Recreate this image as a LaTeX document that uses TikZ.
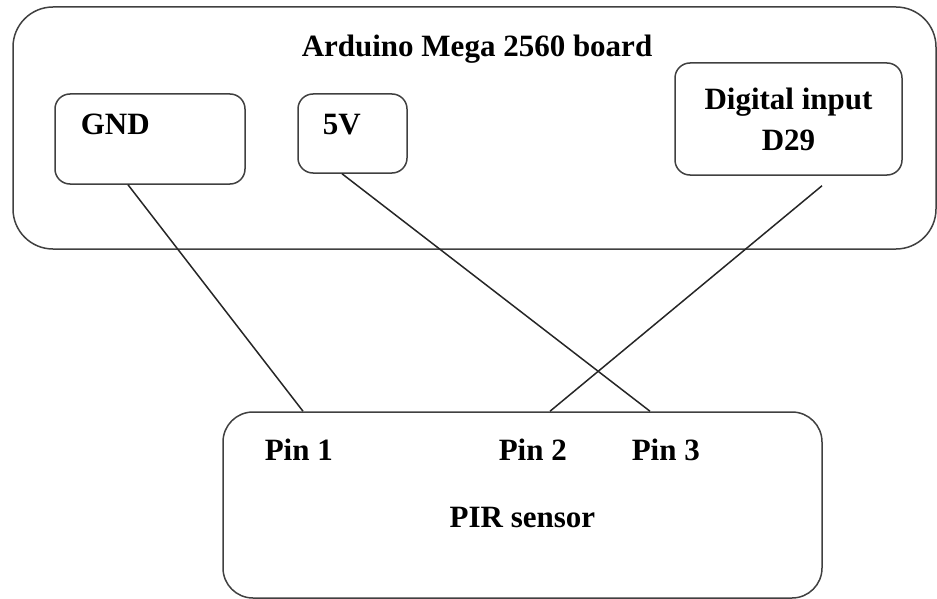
\documentclass[tikz,border=0pt]{standalone}
\usepackage{fontspec}
\setmainfont{Liberation Serif}[BoldFont={Liberation Serif Bold}]

\newcommand{\bigLabel}{\fontsize{31}{41}\selectfont\bfseries}
\tikzset{every picture/.style={line width=1.5pt},
        board/.style={draw=black!75, rounded corners=40pt, minimum width=923pt, minimum height=242pt},
        pinBox/.style={draw=black!75, rounded corners=15pt, inner sep=0pt, align=center, font=\bigLabel},
        lbl/.style={inner sep=0pt, font=\bigLabel},
        wire/.style={draw=black!85}}

\begin{document}
\begin{tikzpicture}[x=1pt, y=-1pt]
\useasboundingbox (0,0) rectangle (937,599);

% draw boards
\node[board] (mega) at (474.5,128) {};
\node[lbl, anchor=base] (mega-title) at (477,57) {Arduino Mega 2560 board};
\node[board, rounded corners=30pt, minimum width=599pt, minimum height=186pt] (pir) at (522.5,505) {};
\node[lbl, anchor=base] (pir-title) at (522.5,527) {PIR sensor};

% draw pin boxes on the board
\node[pinBox, minimum width=190pt, minimum height=90pt] (gnd) at (150,139) {};
\node[lbl, anchor=base west] (gnd-text) at (80,135) {GND};
\node[pinBox, minimum width=109pt, minimum height=79pt] (vcc) at (352.5,133.5) {};
\node[lbl, anchor=base west] (vcc-text) at (322,135) {5V};
\node[pinBox, minimum width=227pt, minimum height=112pt] (d29) at (788.5,119) {Digital input\\D29};

% sensor pins
\foreach \i/\x in {1/264, 2/498, 3/631} {
    \node[lbl, anchor=base west] (pin-\i) at (\x,460) {Pin \i};
}

% wire ends
\coordinate (gnd-out) at ([xshift=-22pt]gnd.south);
\coordinate (vcc-out) at ([xshift=-10.5pt]vcc.south);
\coordinate (d29-out) at ([xshift=33.5pt, yshift=-10pt]d29.south);
\coordinate (pin-1-in) at ([xshift=-219.5pt]pir.north);
\coordinate (pin-2-in) at ([xshift=27.5pt]pir.north);
\coordinate (pin-3-in) at ([xshift=127.5pt]pir.north);

% draw wires
\draw[wire] (gnd-out) -- (pin-1-in);
\draw[wire] (vcc-out) -- (pin-3-in);
\draw[wire] (d29-out) -- (pin-2-in);

\end{tikzpicture}
\end{document}
